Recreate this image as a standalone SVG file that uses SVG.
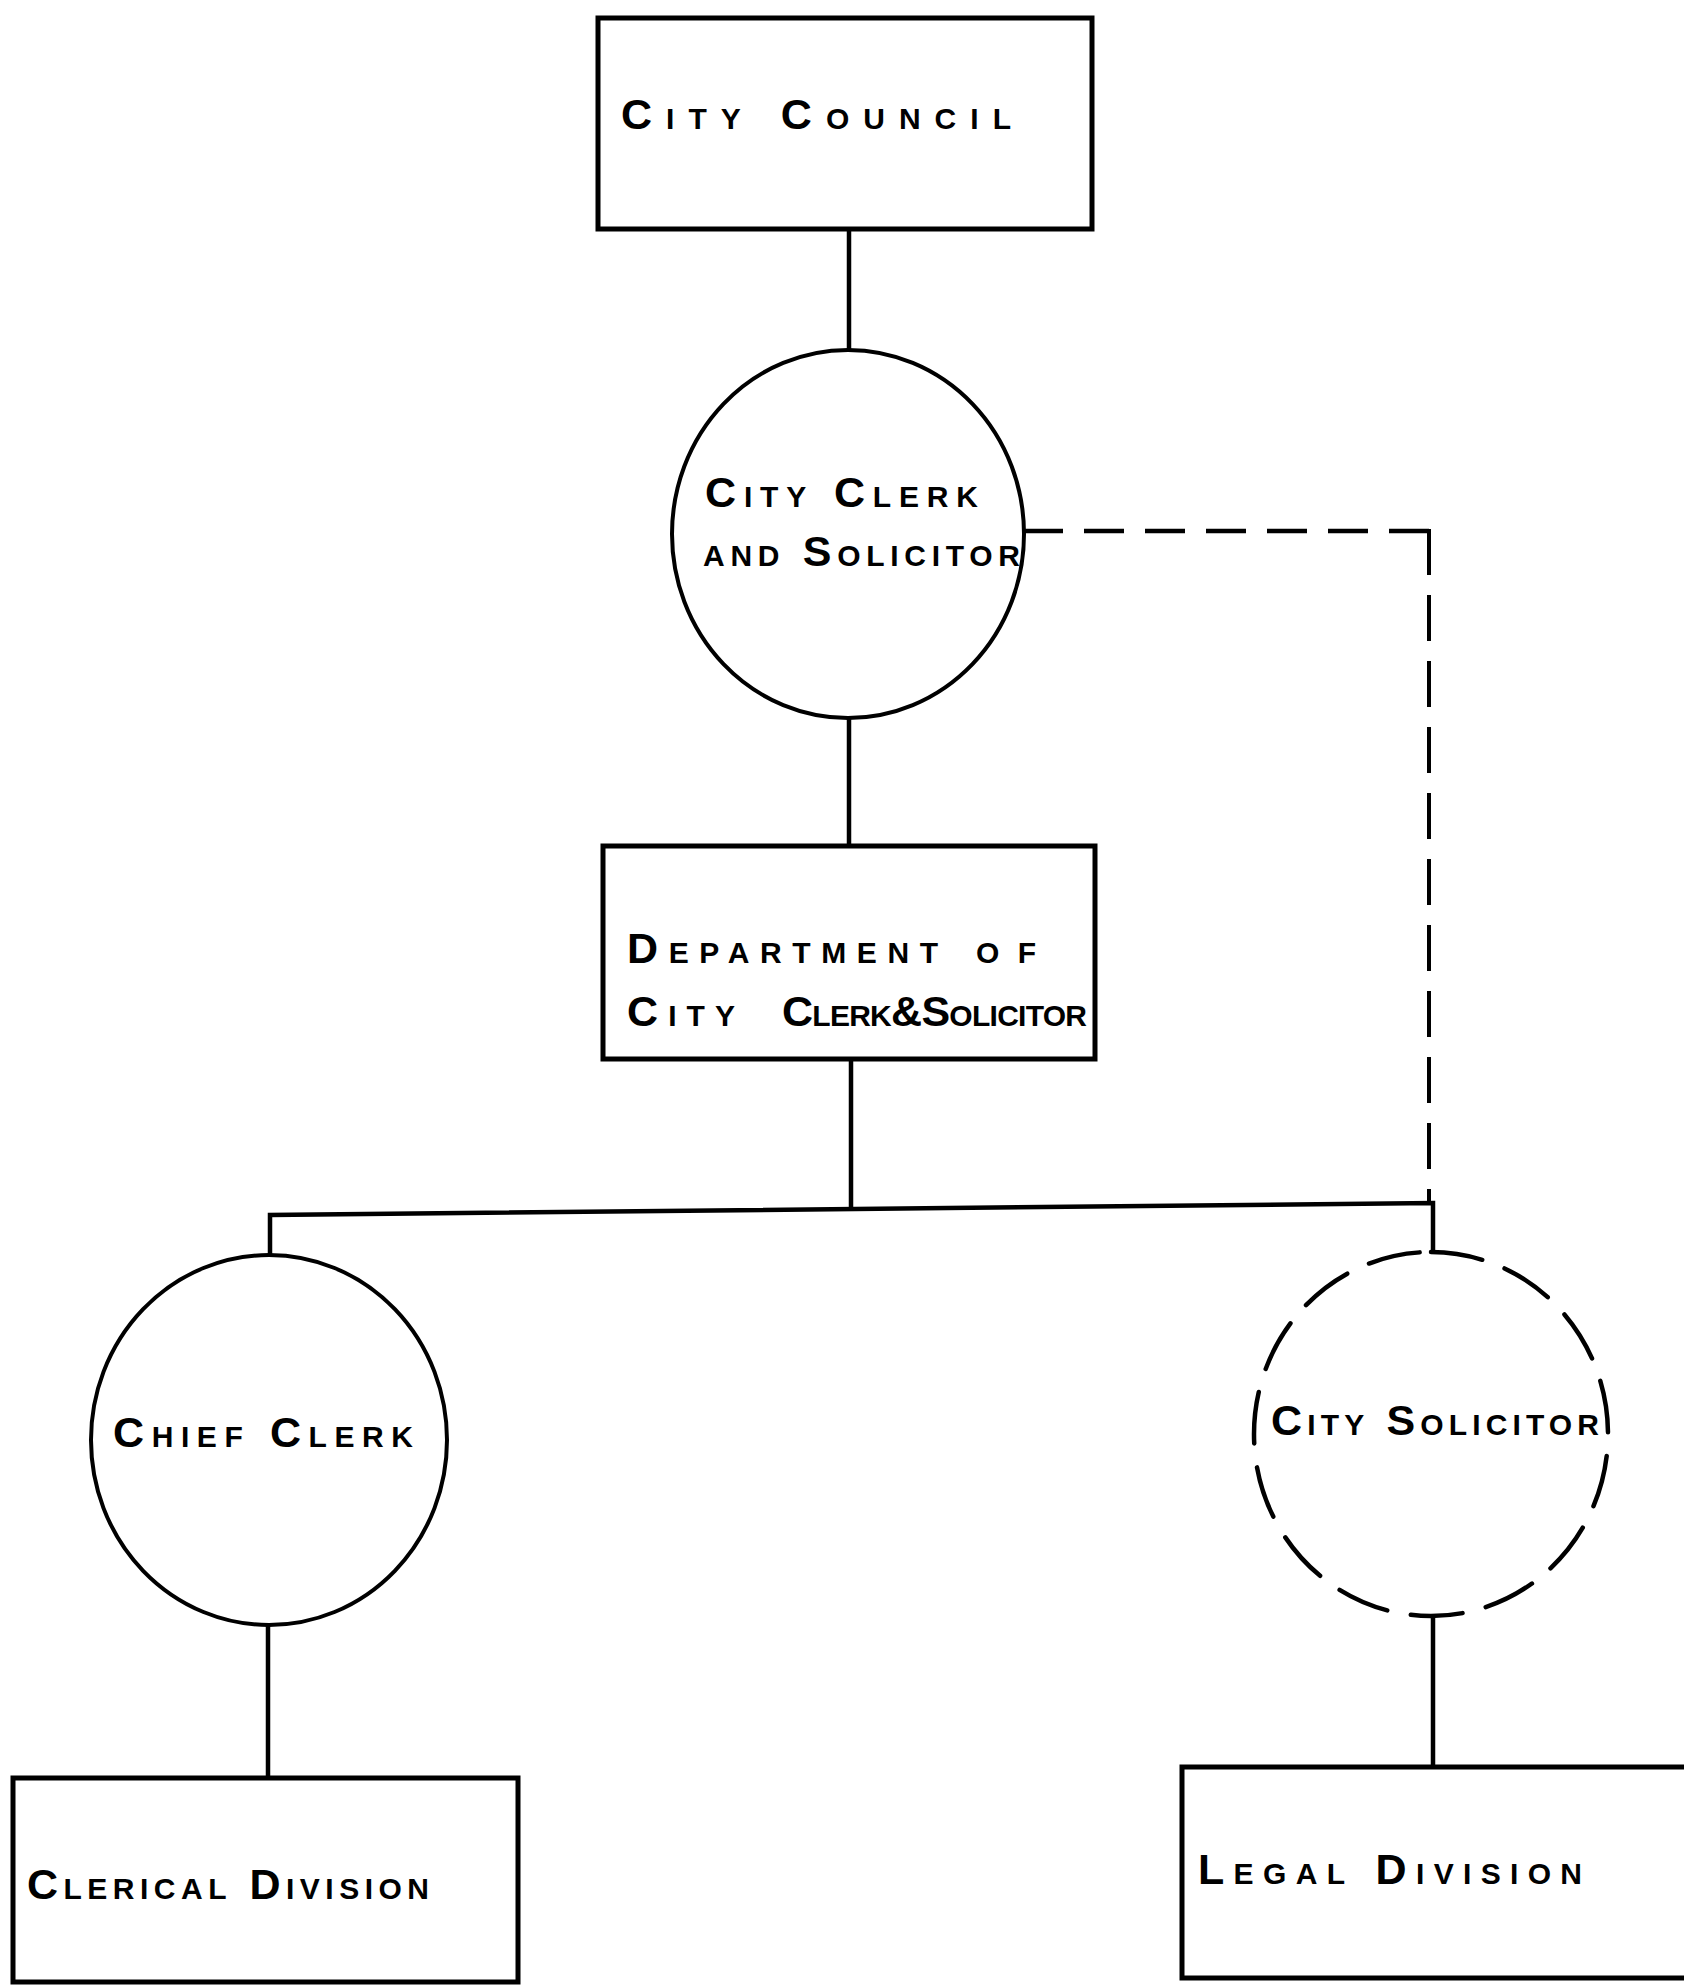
<svg xmlns="http://www.w3.org/2000/svg" width="1684" height="1987" viewBox="0 0 1684 1987">
<style>
.box{fill:#fff;stroke:#000;stroke-width:5}
.node{fill:#fff;stroke:#000;stroke-width:4}
.dashnode{fill:none;stroke:#000;stroke-width:4.5;stroke-dasharray:52 24;stroke-linecap:round}
.con{fill:none;stroke:#000;stroke-width:4.5}
.dashh{fill:none;stroke:#000;stroke-width:4.5;stroke-dasharray:40 21}
.dashv{fill:none;stroke:#000;stroke-width:4;stroke-dasharray:46 20}
.lbl{font-family:"Liberation Sans",Arial,sans-serif;font-variant:small-caps;font-size:43px;fill:#000;font-weight:bold}
</style>
<rect width="1684" height="1987" fill="#fff"/>
<g id="connectors">
<line class="con" x1="849" y1="229" x2="849" y2="350"/>
<line class="con" x1="849" y1="718" x2="849" y2="846"/>
<line class="con" x1="851" y1="1059" x2="851" y2="1209"/>
<polyline class="con" points="270,1255 270,1215 1433,1203 1433,1252"/>
<line class="dashh" x1="1429" y1="531" x2="1024" y2="531"/>
<line class="dashv" x1="1429" y1="529" x2="1429" y2="1203"/>
<line class="con" x1="268" y1="1625" x2="268" y2="1777"/>
<line class="con" x1="1433" y1="1616" x2="1433" y2="1767"/>
</g>
<g id="city-council">
<rect class="box" x="598" y="18" width="494" height="211"/>
<text class="lbl" x="621" y="129" textLength="390" lengthAdjust="spacing">City Council</text>
</g>
<g id="city-clerk-solicitor">
<ellipse class="node" cx="848" cy="534" rx="176" ry="184"/>
<text class="lbl" x="705" y="507" textLength="273" lengthAdjust="spacing">City Clerk</text>
<text class="lbl" x="703" y="566" textLength="317" lengthAdjust="spacing">and Solicitor</text>
</g>
<g id="department">
<rect class="box" x="603" y="846" width="492" height="213"/>
<text class="lbl" x="627" y="963"><tspan textLength="311" lengthAdjust="spacing">Department</tspan><tspan x="976" textLength="60" lengthAdjust="spacing">of</tspan></text>
<text class="lbl" x="627" y="1026"><tspan textLength="108" lengthAdjust="spacing">City</tspan><tspan x="782" textLength="305" lengthAdjust="spacing">Clerk&amp;Solicitor</tspan></text>
</g>
<g id="chief-clerk">
<ellipse class="node" cx="269" cy="1440" rx="178" ry="185"/>
<text class="lbl" x="113" y="1447" textLength="300" lengthAdjust="spacing">Chief Clerk</text>
</g>
<g id="city-solicitor">
<path class="dashnode" d="M1431,1252 A177,182 0 1 1 1431,1616 A177,182 0 1 1 1431,1252"/>
<text class="lbl" x="1271" y="1435" textLength="328" lengthAdjust="spacing">City Solicitor</text>
</g>
<g id="clerical-division">
<rect class="box" x="13" y="1778" width="505" height="204"/>
<text class="lbl" x="27" y="1899" textLength="402" lengthAdjust="spacing">Clerical Division</text>
</g>
<g id="legal-division">
<rect class="box" x="1182" y="1767" width="520" height="211"/>
<text class="lbl" x="1198" y="1884" textLength="384" lengthAdjust="spacing">Legal Division</text>
</g>
</svg>
